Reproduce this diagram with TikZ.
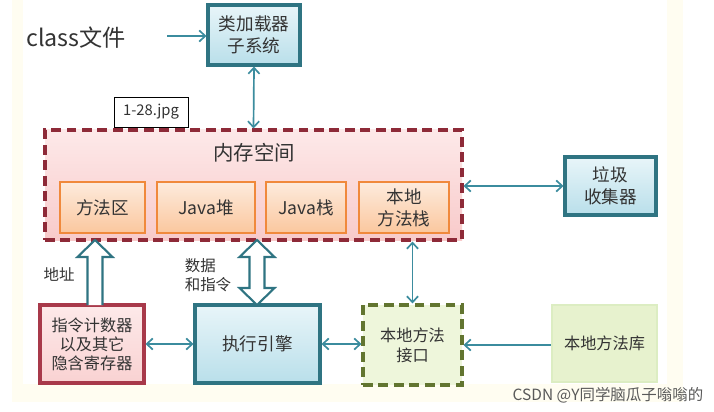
\documentclass[tikz,border=0pt]{standalone}
\usepackage{fontspec}
\usepackage{tikz}
\usetikzlibrary{arrows.meta, positioning, calc}
\newfontfamily\cjk{Noto Sans CJK SC}
\definecolor{tealline}{HTML}{2F7482}
\definecolor{arrowline}{HTML}{3B8C9E}
\definecolor{blueT}{HTML}{E8F5F9}
\definecolor{blueB}{HTML}{B9DFEA}
\definecolor{memline}{HTML}{8E2A38}
\definecolor{memT}{HTML}{FDE9E9}
\definecolor{memB}{HTML}{F8CACA}
\definecolor{orangeline}{HTML}{F0893C}
\definecolor{orangeT}{HTML}{FDEBDD}
\definecolor{orangeB}{HTML}{FBC79E}
\definecolor{redline}{HTML}{A8394A}
\definecolor{greenline}{HTML}{627530}
\definecolor{greenfill}{HTML}{EEF6DB}
\definecolor{libfill}{HTML}{E7F2CE}
\definecolor{libline}{HTML}{DCEDC2}
\definecolor{cream}{HTML}{FFFDF1}
\definecolor{txt}{HTML}{333333}
\newlength{\pxu}\setlength{\pxu}{0.025cm}

\begin{document}
\begin{tikzpicture}[x=0.025cm, y=-0.025cm, >={Straight Barb[length=1.5mm, width=2.8mm]},
    font=\cjk\fontsize{12.5}{15.5}\selectfont, text=txt,
    bluebox/.style={draw=tealline, line width=2.2pt, top color=blueT, bottom color=blueB, align=center},
    orangebox/.style={draw=orangeline, line width=1.6pt, top color=orangeT, bottom color=orangeB, align=center, minimum height=51\pxu},
    link/.style={arrowline, line width=1.2pt},
    hollow/.style={draw=tealline, line width=1.5pt, fill=white, line join=miter}]
  \useasboundingbox (0,0) rectangle (714,412);

  % Hintergrund
  \fill[cream] (12,0) rectangle (683,402);
  \fill[white] (23,0) rectangle (667,384);

  % Klassenlader
  \node (classfile) at (76,38) {\fontsize{16.5}{20}\selectfont class文件};
  \node[bluebox, minimum width=92\pxu, minimum height=60\pxu] (loader) at (254,35) {类加载器\\子系统};
  \coordinate (classend) at (167,36);
  \draw[link, ->] (classend) -- (loader.west |- classend);

  \node[draw=black, line width=0.6pt, fill=white, minimum width=74\pxu, minimum height=30\pxu,
        font=\cjk\fontsize{10.5}{12}\selectfont] (tag) at (151,112) {1-28.jpg};

  % Speicher
  \node[draw=memline, line width=2.2pt, dash pattern=on 7pt off 4pt, top color=memT, bottom color=memB,
        minimum width=417\pxu, minimum height=110\pxu] (mem) at (253.5,185) {};
  \node[font=\cjk\fontsize{14.5}{17}\selectfont] (memtitle) at (254,153) {内存空间};
  \node[orangebox, minimum width=85\pxu] (method) at (102.5,207.5) {方法区};
  \node[orangebox, minimum width=98\pxu] (heap) at (206,207.5) {Java堆};
  \node[orangebox, minimum width=80\pxu] (stack) at (306,207.5) {Java栈};
  \node[orangebox, minimum width=90\pxu] (nstack) at (404,207.5) {本地\\方法栈};

  \node[bluebox, minimum width=91\pxu, minimum height=58\pxu] (gc) at (610.5,186) {垃圾\\收集器};
  \draw[link, <->] (loader.south) -- (mem.north);
  \draw[link, <->] (mem.east |- gc.west) -- (gc.west);

  % untere Reihe
  \node[draw=redline, line width=2.2pt, top color=memT, bottom color=memB!85!white, align=center,
        minimum width=104\pxu, minimum height=78\pxu, font=\cjk\fontsize{11.5}{13.5}\selectfont] (pc) at (92,344) {指令计数器\\以及其它\\隐含寄存器};
  \node[bluebox, minimum width=125\pxu, minimum height=78\pxu] (exec) at (257.5,344) {执行引擎};
  \node[draw=greenline, line width=2.2pt, dash pattern=on 7pt off 4pt, fill=greenfill, align=center,
        minimum width=99\pxu, minimum height=80\pxu, font=\cjk\fontsize{11.5}{14}\selectfont] (native) at (412.5,345) {本地方法\\接口};
  \node[draw=libline, line width=1.5pt, fill=libfill, minimum width=105\pxu, minimum height=77\pxu,
        font=\cjk\fontsize{11.5}{14}\selectfont] (lib) at (604.5,343.5) {本地方法库};

  \draw[link, <->] (pc.east) -- (exec.west);
  \draw[link, <->] (exec.east) -- (exec.east -| native.west);
  \draw[link, ->] (lib.west |- native.east) -- (native.east);
  \draw[link, <->] (native.north |- mem.south) -- (native.north);

  % Hohlpfeile
  \draw[hollow] (87.5,305) -- (87.5,257) -- (77.5,257) -- (95,240) -- (112.5,257) -- (102.5,257) -- (102.5,305);
  \draw[hollow] (257,240) -- (274.5,257) -- (264.5,257) -- (264.5,288) -- (274.5,288) -- (257,305)
    -- (239.5,288) -- (249.5,288) -- (249.5,257) -- (239.5,257) -- cycle;
  \node[font=\cjk\fontsize{11}{13}\selectfont] (addr) at (59,274) {地址};
  \node[align=left, font=\cjk\fontsize{11}{13.5}\selectfont] (data) at (208,275) {数据\\和指令};

  \node[text=black!65, font=\cjk\fontsize{11}{13}\selectfont] (mark) at (608,395) {CSDN @Y同学脑瓜子嗡嗡的};
\end{tikzpicture}
\end{document}
